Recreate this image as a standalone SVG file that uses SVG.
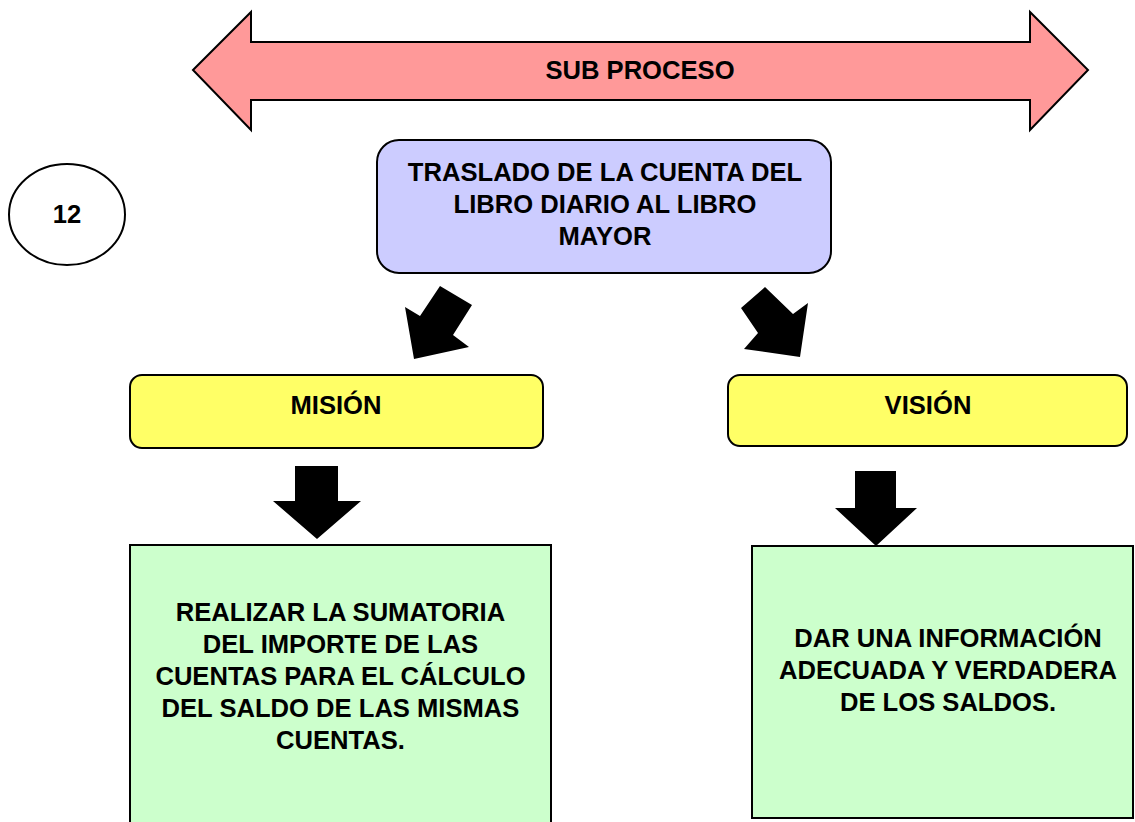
<svg xmlns="http://www.w3.org/2000/svg" width="1135" height="822" viewBox="0 0 1135 822">
<style>
.t{font-family:"Liberation Sans",Arial,sans-serif;font-weight:bold;font-size:25.6px;fill:#000;text-anchor:middle}
.sh{stroke:#000;stroke-width:2}
.ar{fill:#000;stroke:none}
</style>
<rect width="1135" height="822" fill="#fff"/>
<g id="subproceso">
<polygon class="sh" fill="#FF9999" points="193,70 251,12 251,42 1030,42 1030,12 1088,70 1030,130 1030,100 251,100 251,130"/>
<text class="t" x="640" y="79">SUB PROCESO</text>
</g>
<g id="num">
<ellipse class="sh" fill="#fff" cx="67" cy="214.5" rx="58" ry="50.5"/>
<text class="t" x="67" y="223">12</text>
</g>
<g id="traslado">
<rect class="sh" fill="#CCCCFF" x="377" y="140" width="454" height="133" rx="22"/>
<text class="t" x="605" y="181">TRASLADO DE LA CUENTA DEL</text>
<text class="t" x="605" y="213">LIBRO DIARIO AL LIBRO</text>
<text class="t" x="605" y="245">MAYOR</text>
</g>
<g id="mision">
<rect class="sh" fill="#FFFF66" x="130" y="375" width="413" height="73" rx="12"/>
<text class="t" x="336" y="414">MISIÓN</text>
</g>
<g id="vision">
<rect class="sh" fill="#FFFF66" x="728" y="375" width="399" height="71" rx="12"/>
<text class="t" x="928" y="414">VISIÓN</text>
</g>
<g id="mision-texto">
<rect class="sh" fill="#CCFFCC" x="130" y="545" width="421" height="290"/>
<text class="t" x="340.5" y="621">REALIZAR LA SUMATORIA</text>
<text class="t" x="340.5" y="653">DEL IMPORTE DE LAS</text>
<text class="t" x="340.5" y="685">CUENTAS PARA EL CÁLCULO</text>
<text class="t" x="340.5" y="717">DEL SALDO DE LAS MISMAS</text>
<text class="t" x="340.5" y="749">CUENTAS.</text>
</g>
<g id="vision-texto">
<rect class="sh" fill="#CCFFCC" x="752" y="546" width="381" height="272"/>
<text class="t" x="948" y="647">DAR UNA INFORMACIÓN</text>
<text class="t" x="948" y="679">ADECUADA Y VERDADERA</text>
<text class="t" x="948" y="711">DE LOS SALDOS.</text>
</g>
<g id="connectors">
<polygon class="ar" points="440,286 472,305 453,335 469,347 414,359 405,307 420,316"/>
<polygon class="ar" points="765,287 741,308 758,333 744,349 800,357 808,303 793,314"/>
<polygon class="ar" points="295,466 338,466 338,501 361,501 317,539 273,501 295,501"/>
<polygon class="ar" points="855,471 896,471 896,508 917,508 876,546 835,508 855,508"/>
</g>
</svg>
